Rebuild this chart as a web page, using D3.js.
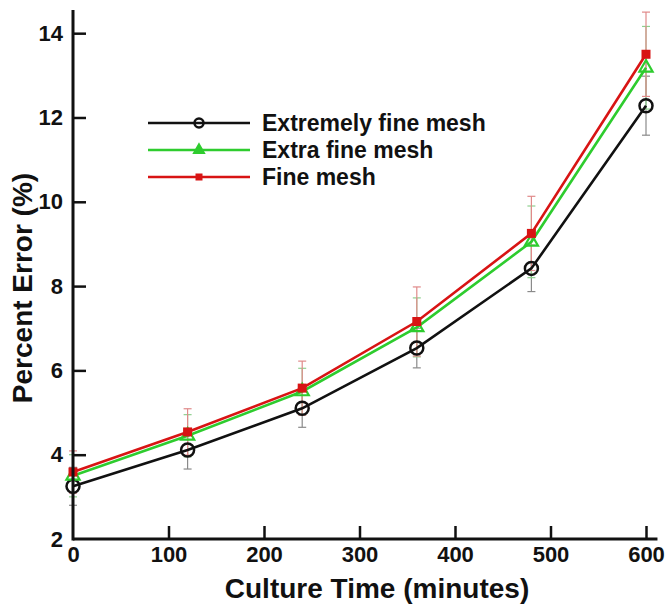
<!DOCTYPE html>
<html>
<head>
<meta charset="utf-8">
<script src="https://cdn.jsdelivr.net/npm/d3@7"></script>
<style>
  body { margin: 0; background: #fff; }
  text { font-family: "Liberation Sans", Arial, sans-serif; font-weight: bold; }
</style>
</head>
<body>
<div id="chart"></div>
<script>
// Culture time (minutes)
const times = [0, 120, 240, 360, 480, 600];

// Percent error per mesh, with error bar half-widths
const extremelyFine = [3.25, 4.11, 5.1, 6.53, 8.42, 12.28];
const extremelyFineErr = [0.45, 0.45, 0.45, 0.47, 0.55, 0.7];
const extraFine = [3.5, 4.45, 5.5, 7.02, 9.05, 13.18];
const extraFineErr = [0.5, 0.5, 0.55, 0.7, 0.85, 0.98];
const fine = [3.59, 4.54, 5.58, 7.16, 9.25, 13.5];
const fineErr = [0.5, 0.55, 0.64, 0.82, 0.88, 1.0];

const xTicks = [0, 100, 200, 300, 400, 500, 600];
const yTicks = [2, 4, 6, 8, 10, 12, 14];

const series = [
  { name: "Extremely fine mesh", values: extremelyFine, err: extremelyFineErr, color: "#111", errColor: "#8a8a8a", marker: "circle" },
  { name: "Extra fine mesh", values: extraFine, err: extraFineErr, color: "#2ecc2e", errColor: "#8fd08f", marker: "triangle" },
  { name: "Fine mesh", values: fine, err: fineErr, color: "#d81414", errColor: "#e08a8a", marker: "square" }
];

const width = 669, height = 605;

const svg = d3.select("#chart")
  .append("svg")
  .attr("width", width)
  .attr("height", height);

// scales
const x = d3.scaleLinear().domain([0, 600]).range([73, 646]);
const y = d3.scaleLinear().domain([2, 14.55]).range([539, 10]);

// error bars first, behind the lines
series.forEach(s => {
  const g = svg.append("g").attr("stroke", s.errColor).attr("stroke-width", 1.2);
  times.forEach((t, i) => {
    const lo = s.values[i] - s.err[i], hi = s.values[i] + s.err[i];
    g.append("line").attr("x1", x(t)).attr("x2", x(t)).attr("y1", y(lo)).attr("y2", y(hi));
    g.append("line").attr("x1", x(t) - 4).attr("x2", x(t) + 4).attr("y1", y(lo)).attr("y2", y(lo));
    g.append("line").attr("x1", x(t) - 4).attr("x2", x(t) + 4).attr("y1", y(hi)).attr("y2", y(hi));
  });
});

const line = d3.line()
  .x((d, i) => x(times[i]))
  .y(d => y(d));

// draw a marker of a given type at px, py
function drawMarker(g, type, px, py, color, big) {
  if (type === "circle") {
    g.append("circle").attr("cx", px).attr("cy", py).attr("r", big ? 6.5 : 4.5)
      .attr("fill", "none").attr("stroke", color).attr("stroke-width", 2.5);
  } else if (type === "triangle") {
    const sym = d3.symbol().type(d3.symbolTriangle).size(big ? 75 : 40);
    g.append("path").attr("d", sym()).attr("transform", "translate(" + px + "," + py + ")")
      .attr("fill", big ? "none" : color).attr("stroke", color).attr("stroke-width", 2.2);
  } else {
    const s = big ? 9 : 7;
    g.append("rect").attr("x", px - s / 2).attr("y", py - s / 2).attr("width", s).attr("height", s)
      .attr("fill", color);
  }
}

series.forEach(s => {
  svg.append("path")
    .datum(s.values)
    .attr("fill", "none")
    .attr("stroke", s.color)
    .attr("stroke-width", 2.6)
    .attr("d", line);
  const g = svg.append("g");
  s.values.forEach((v, i) => drawMarker(g, s.marker, x(times[i]), y(v), s.color, true));
});

// axes
const xAxis = svg.append("g")
  .attr("transform", "translate(0," + y(2) + ")")
  .call(d3.axisBottom(x).tickValues(xTicks).tickSize(-13).tickSizeOuter(0).tickPadding(7));
const yAxis = svg.append("g")
  .attr("transform", "translate(" + x(0) + ",0)")
  .call(d3.axisLeft(y).tickValues(yTicks).tickSize(-13).tickSizeOuter(0).tickPadding(10));

[xAxis, yAxis].forEach(a => {
  a.select(".domain").remove();
  a.selectAll(".tick line").attr("stroke", "#111").attr("stroke-width", 2.5);
  a.selectAll(".tick text").attr("font-size", 22).attr("fill", "#111")
    .style("font-family", "'Liberation Sans', Arial, sans-serif").style("font-weight", "bold");
});
xAxis.selectAll(".tick").filter(d => d === 0).select("line").remove();
yAxis.selectAll(".tick").filter(d => d === 2).select("line").remove();

// axis lines
svg.append("line").attr("x1", x(0)).attr("x2", x(612)).attr("y1", y(2)).attr("y2", y(2))
  .attr("stroke", "#111").attr("stroke-width", 3);
svg.append("line").attr("x1", x(0)).attr("x2", x(0)).attr("y1", y(2) + 1.5).attr("y2", y(14.55))
  .attr("stroke", "#111").attr("stroke-width", 3);

// axis titles
svg.append("text")
  .attr("x", 377).attr("y", 598)
  .attr("text-anchor", "middle")
  .attr("font-size", 28)
  .attr("fill", "#111")
  .text("Culture Time (minutes)");

svg.append("text")
  .attr("transform", "translate(32,288) rotate(-90)")
  .attr("text-anchor", "middle")
  .attr("font-size", 28)
  .attr("fill", "#111")
  .text("Percent Error (%)");

// legend
const legend = svg.append("g");
series.forEach((s, i) => {
  const ly = 123 + i * 27;
  legend.append("line").attr("x1", 148).attr("x2", 250).attr("y1", ly).attr("y2", ly)
    .attr("stroke", s.color).attr("stroke-width", 2.6);
  drawMarker(legend, s.marker, 199, ly, s.color, false);
  legend.append("text").attr("x", 262).attr("y", ly + 8)
    .attr("font-size", 23).attr("fill", "#111").text(s.name);
});
</script>
</body>
</html>
